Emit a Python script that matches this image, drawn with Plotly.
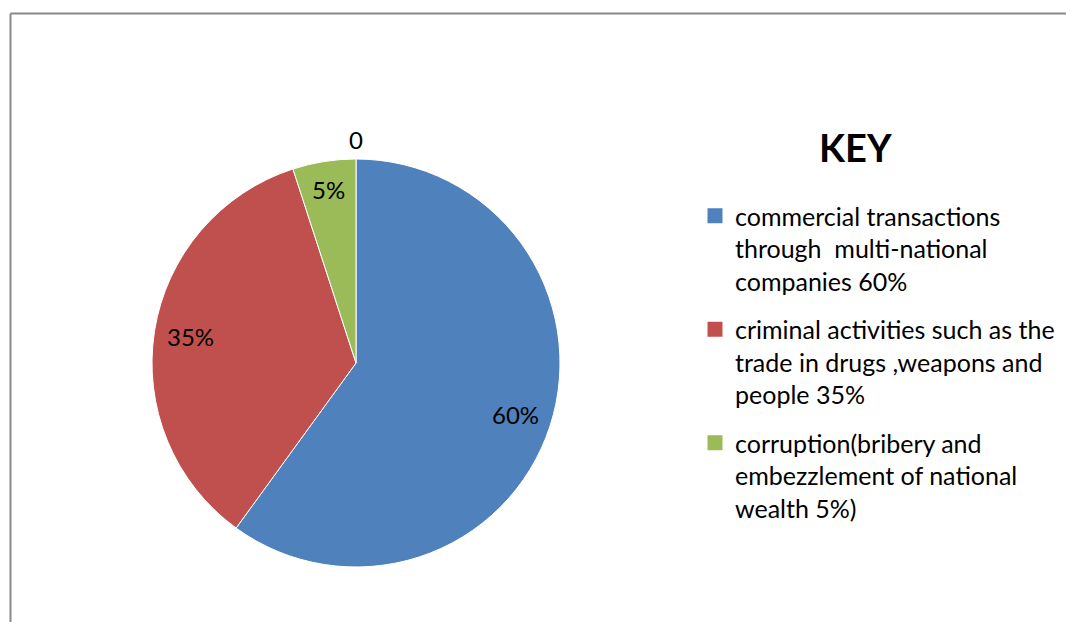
import math
import plotly.graph_objects as go

# ---- data ----
categories = [
    "commercial transactions<br>through  multi-national<br>companies 60%",
    "criminal activities such as the<br>trade in drugs ,weapons and<br>people 35%",
    "corruption(bribery and<br>embezzlement of national<br>wealth 5%)",
]
values = [60, 35, 5]
value_labels = ["60%", "35%", "5%"]
colors = ["#4F81BD", "#C0504D", "#9BBB59"]
extra_label = "0"

W, H = 1066, 622
FONT = "Lato"

# pie geometry (pixels) -> domain
cx, cy, R = 356, 363, 204
dom_x = [(cx - R) / W, (cx + R) / W]
dom_y = [1 - (cy + R) / H, 1 - (cy - R) / H]

fig = go.Figure()
fig.add_trace(go.Pie(
    labels=categories,
    values=values,
    sort=False,
    direction="clockwise",
    rotation=0,
    marker=dict(colors=colors, line=dict(color="white", width=1)),
    textinfo="none",
    hoverinfo="label+percent",
    domain=dict(x=dom_x, y=dom_y),
    showlegend=False,
))

# legend entries (one group per category so that groups get a gap)
for i, (cat, col) in enumerate(zip(categories, colors)):
    fig.add_trace(go.Scatter(
        x=[None], y=[None], mode="markers", name=cat,
        marker=dict(symbol="square", size=15, color=col),
        legendgroup=f"g{i}", showlegend=True, hoverinfo="skip",
    ))

# slice labels placed along each slice's mid-angle
annotations = []
total = sum(values)
cum = 0
for v, lab in zip(values, value_labels):
    mid = (cum + v / 2) / total * 2 * math.pi
    cum += v
    r = (0.82 if v >= 10 else 0.86) * R
    px = cx + r * math.sin(mid)
    py = cy - r * math.cos(mid)
    annotations.append(dict(x=px / W, y=1 - py / H, xref="paper", yref="paper",
                            xanchor="center", yanchor="middle",
                            text=lab, showarrow=False,
                            font=dict(family=FONT, size=24, color="black")))
# zero-value data label above the pie top
annotations.append(dict(x=cx / W, y=1 - (cy - R - 19) / H, xref="paper", yref="paper",
                        xanchor="center", yanchor="middle",
                        text=extra_label, showarrow=False,
                        font=dict(family=FONT, size=24, color="black")))
# legend heading
annotations.append(dict(x=855 / W, y=1 - 147 / H, xref="paper", yref="paper",
                        xanchor="center", yanchor="middle",
                        text="<b>KEY</b>", showarrow=False,
                        font=dict(family=FONT, size=38, color="black")))

shapes = [
    dict(type="line", xref="paper", yref="paper", x0=10.5 / W, x1=10.5 / W, y0=0, y1=1 - 13.5 / H,
         line=dict(color="#898989", width=2)),
    dict(type="line", xref="paper", yref="paper", x0=10.5 / W, x1=1, y0=1 - 13.5 / H, y1=1 - 13.5 / H,
         line=dict(color="#898989", width=2)),
]

fig.update_layout(
    width=W, height=H,
    margin=dict(l=0, r=0, t=0, b=0),
    paper_bgcolor="white",
    plot_bgcolor="white",
    xaxis=dict(visible=False),
    yaxis=dict(visible=False),
    annotations=annotations,
    shapes=shapes,
    legend=dict(
        x=695 / W, y=1 - 193 / H, xanchor="left", yanchor="top",
        font=dict(family=FONT, size=25, color="black"),
        bgcolor="rgba(0,0,0,0)",
        valign="top",
        tracegroupgap=13,
        traceorder="grouped",
    ),
)

fig.write_html("out.html")
